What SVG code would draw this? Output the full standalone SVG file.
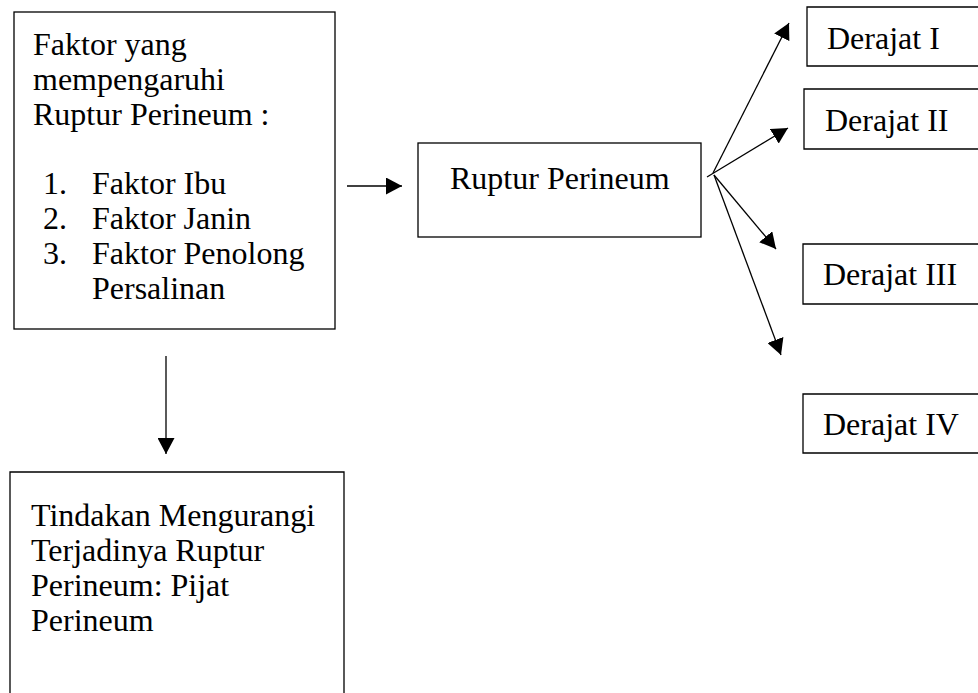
<svg xmlns="http://www.w3.org/2000/svg" width="978" height="693" viewBox="0 0 978 693">
<style>
.box{fill:#fff;stroke:#000;stroke-width:1.3}
.t{font-family:"Liberation Serif","Times New Roman",serif;font-size:32px;fill:#000}
.c{stroke:#000;stroke-width:1.3;fill:none}
</style>
<defs>
<marker id="ah" markerWidth="17" markerHeight="17" refX="16" refY="8.5" orient="auto" markerUnits="userSpaceOnUse">
<path d="M0,0 L16,8.5 L0,17 Z" fill="#000"/>
</marker>
</defs>
<rect width="978" height="693" fill="#fff"/>
<g id="faktor">
<rect class="box" x="14" y="12" width="321" height="317"/>
<text class="t" x="33" y="55">Faktor yang</text>
<text class="t" x="33" y="90">mempengaruhi</text>
<text class="t" x="33" y="125">Ruptur Perineum :</text>
<text class="t" x="43" y="194">1.</text>
<text class="t" x="92" y="194">Faktor Ibu</text>
<text class="t" x="43" y="229">2.</text>
<text class="t" x="92" y="229">Faktor Janin</text>
<text class="t" x="43" y="264">3.</text>
<text class="t" x="92" y="264">Faktor Penolong</text>
<text class="t" x="92" y="299">Persalinan</text>
</g>
<g id="ruptur">
<rect class="box" x="418" y="143" width="283" height="94"/>
<text class="t" x="450" y="189">Ruptur Perineum</text>
</g>
<g id="derajat1">
<path class="box" d="M980,7 H807 V66 H980"/>
<text class="t" x="827" y="49">Derajat I</text>
</g>
<g id="derajat2">
<path class="box" d="M980,89 H804 V149 H980"/>
<text class="t" x="825" y="131">Derajat II</text>
</g>
<g id="derajat3">
<path class="box" d="M980,244 H803 V304 H980"/>
<text class="t" x="823" y="285">Derajat III</text>
</g>
<g id="derajat4">
<path class="box" d="M980,394 H803 V453 H980"/>
<text class="t" x="823" y="435">Derajat IV</text>
</g>
<g id="tindakan">
<path class="box" d="M10,700 V472 H344 V700"/>
<text class="t" x="31" y="526">Tindakan Mengurangi</text>
<text class="t" x="31" y="561">Terjadinya Ruptur</text>
<text class="t" x="31" y="596">Perineum: Pijat</text>
<text class="t" x="31" y="631">Perineum</text>
</g>
<g id="connectors">
<line class="c" x1="347" y1="186" x2="402" y2="186" marker-end="url(#ah)"/>
<line class="c" x1="166" y1="356" x2="166" y2="454" marker-end="url(#ah)"/>
<line class="c" x1="713" y1="173" x2="789" y2="23" marker-end="url(#ah)"/>
<line class="c" x1="707" y1="177" x2="788" y2="128" marker-end="url(#ah)"/>
<line class="c" x1="714" y1="175" x2="776" y2="249" marker-end="url(#ah)"/>
<line class="c" x1="714" y1="175" x2="781" y2="355" marker-end="url(#ah)"/>
</g>
</svg>
